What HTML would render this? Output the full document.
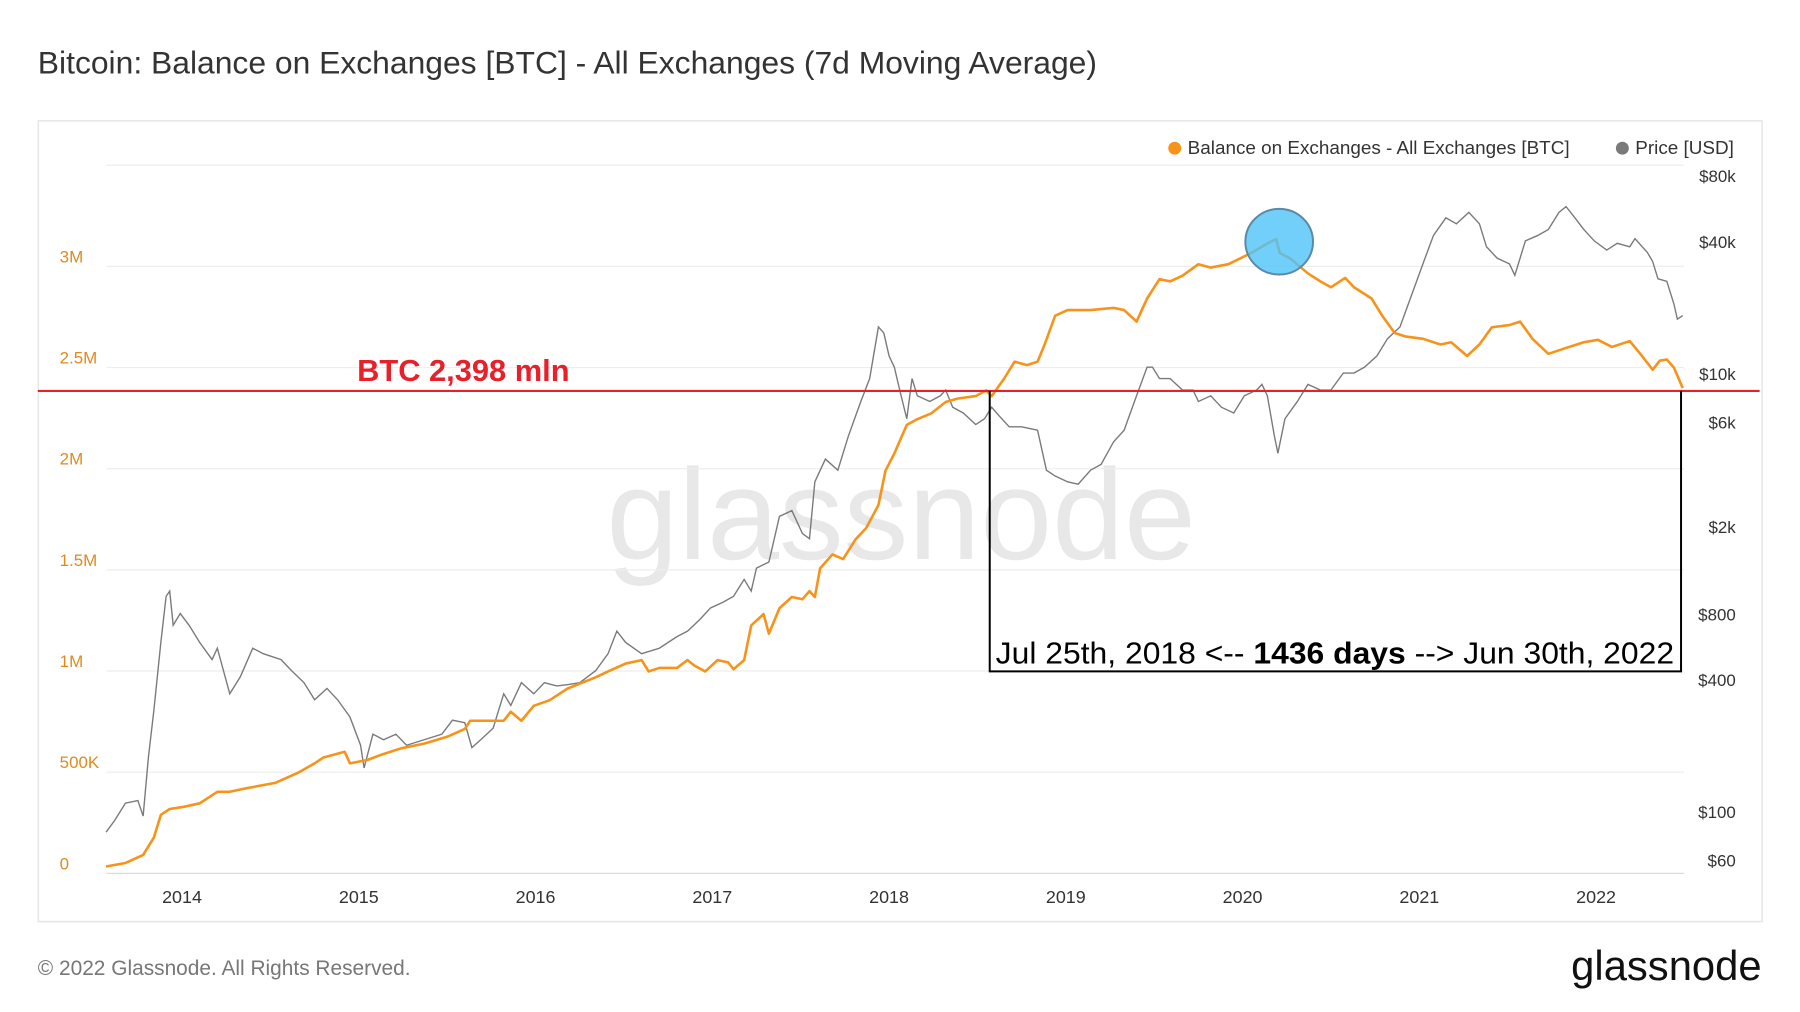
<!DOCTYPE html>
<html><head><meta charset="utf-8">
<style>
html,body{margin:0;padding:0;background:#fff;}
svg{display:block;font-family:"Liberation Sans",sans-serif;}
</style></head>
<body>
<svg id="chart" width="1800" height="1012" viewBox="0 0 1800 1012" xmlns="http://www.w3.org/2000/svg">
<g transform="scale(0.9947)">
<text x="38" y="74" font-size="32" fill="#333">Bitcoin: Balance on Exchanges [BTC] - All Exchanges (7d Moving Average)</text>
<rect x="38.5" y="121.5" width="1733" height="805" fill="#fff" stroke="#e6e6e6" stroke-width="1.5"/>
<text x="906" y="562" font-size="130" fill="#e8e8e8" text-anchor="middle">glassnode</text>
<g id="grid"></g>
<g id="leftAxis"></g>
<g id="rightAxis"></g>
<g id="xAxis"></g>
<path id="priceLine" fill="none" stroke="#7a7a7a" stroke-width="1.4"/>
<path id="balLine" fill="none" stroke="#f7931a" stroke-width="2.6" stroke-linejoin="round"/>
<ellipse cx="1286" cy="243" rx="34" ry="33" fill="#4fc3f7" fill-opacity="0.8" stroke="#5a8aa6" stroke-width="2"/>
<line x1="38" y1="393" x2="1769" y2="393" stroke="#e8202a" stroke-width="2.2"/>
<text x="359" y="383" font-size="31" font-weight="bold" fill="#e8202a">BTC 2,398 mln</text>
<path d="M995 393 V675 H1690 V393" fill="none" stroke="#000" stroke-width="2"/>
<text x="1001" y="667" font-size="31" fill="#000" textLength="682" lengthAdjust="spacingAndGlyphs">Jul 25th, 2018 &lt;-- <tspan font-weight="bold">1436 days</tspan> --&gt; Jun 30th, 2022</text>
<g>
<circle cx="1181" cy="149" r="6.5" fill="#f7931a"/>
<text x="1194" y="155" font-size="19" fill="#333">Balance on Exchanges - All Exchanges [BTC]</text>
<circle cx="1631" cy="149" r="6.5" fill="#7a7a7a"/>
<text x="1644" y="155" font-size="19" fill="#333">Price [USD]</text>
</g>
<text x="38" y="980" font-size="21" fill="#777">© 2022 Glassnode. All Rights Reserved.</text>
<text x="1771" y="985" font-size="42" fill="#111" text-anchor="end">glassnode</text>
</g>
</svg>
<script>
const balDates=[2013.57,2013.68,2013.78,2013.84,2013.88,2013.93,2014.01,2014.10,2014.20,2014.27,2014.36,2014.53,2014.66,2014.75,2014.80,2014.92,2014.95,2015.05,2015.14,2015.24,2015.37,2015.50,2015.60,2015.63,2015.73,2015.82,2015.86,2015.92,2015.99,2016.08,2016.18,2016.34,2016.41,2016.51,2016.60,2016.64,2016.70,2016.80,2016.86,2016.90,2016.96,2017.03,2017.09,2017.12,2017.18,2017.22,2017.29,2017.32,2017.38,2017.45,2017.51,2017.55,2017.58,2017.61,2017.68,2017.74,2017.81,2017.87,2017.94,2017.98,2018.03,2018.10,2018.16,2018.24,2018.32,2018.39,2018.49,2018.55,2018.58,2018.65,2018.71,2018.78,2018.84,2018.88,2018.94,2019.01,2019.14,2019.27,2019.33,2019.40,2019.46,2019.53,2019.59,2019.66,2019.75,2019.82,2019.92,2020.05,2020.14,2020.19,2020.21,2020.27,2020.37,2020.44,2020.50,2020.58,2020.63,2020.73,2020.79,2020.86,2020.92,2021.02,2021.12,2021.18,2021.27,2021.34,2021.41,2021.51,2021.57,2021.64,2021.73,2021.83,2021.93,2022.01,2022.09,2022.19,2022.25,2022.32,2022.36,2022.40,2022.44,2022.49];
const balValuesK=[34,51,91,176,289,318,329,346,403,403,420,448,499,544,573,601,544,561,590,618,641,675,714,754,754,754,799,754,828,856,913,969,998,1037,1054,998,1015,1015,1054,1026,998,1054,1043,1009,1054,1225,1281,1185,1310,1366,1355,1395,1366,1508,1576,1553,1650,1706,1820,1990,2075,2217,2245,2274,2330,2347,2359,2387,2359,2444,2529,2512,2529,2614,2756,2784,2784,2795,2784,2727,2841,2937,2926,2954,3011,2994,3011,3067,3113,3135,3067,3039,2965,2926,2897,2943,2897,2841,2756,2671,2654,2642,2614,2625,2557,2614,2699,2710,2727,2642,2568,2597,2625,2637,2602,2631,2568,2489,2534,2540,2500,2398];
const priceDates=[2013.57,2013.62,2013.68,2013.75,2013.78,2013.81,2013.84,2013.88,2013.91,2013.93,2013.95,2013.99,2014.04,2014.10,2014.17,2014.20,2014.27,2014.33,2014.40,2014.46,2014.56,2014.62,2014.69,2014.75,2014.82,2014.88,2014.95,2015.01,2015.03,2015.08,2015.14,2015.21,2015.27,2015.37,2015.47,2015.53,2015.60,2015.64,2015.69,2015.76,2015.82,2015.86,2015.92,2015.99,2016.05,2016.12,2016.18,2016.25,2016.34,2016.41,2016.46,2016.51,2016.60,2016.70,2016.80,2016.86,2016.93,2016.99,2017.06,2017.12,2017.18,2017.22,2017.25,2017.32,2017.38,2017.45,2017.51,2017.55,2017.58,2017.64,2017.71,2017.77,2017.84,2017.89,2017.94,2017.97,2018.00,2018.03,2018.06,2018.10,2018.13,2018.16,2018.23,2018.29,2018.32,2018.36,2018.42,2018.49,2018.54,2018.58,2018.62,2018.68,2018.75,2018.84,2018.89,2018.94,2019.01,2019.07,2019.14,2019.20,2019.27,2019.33,2019.40,2019.46,2019.49,2019.53,2019.59,2019.66,2019.72,2019.75,2019.82,2019.88,2019.95,2020.01,2020.08,2020.11,2020.14,2020.18,2020.20,2020.24,2020.31,2020.37,2020.44,2020.50,2020.57,2020.63,2020.69,2020.76,2020.82,2020.89,2020.95,2021.02,2021.08,2021.15,2021.21,2021.28,2021.34,2021.38,2021.44,2021.51,2021.54,2021.60,2021.67,2021.73,2021.79,2021.83,2021.88,2021.93,2021.99,2022.06,2022.12,2022.19,2022.22,2022.29,2022.32,2022.35,2022.40,2022.44,2022.46,2022.49];
const priceValues=[81,92,110,113,96,178,289,595,967,1022,713,807,713,595,497,560,347,415,560,529,497,442,390,326,367,326,272,202,159,227,214,227,202,214,227,263,256,197,214,242,347,307,390,347,390,377,382,390,442,529,670,595,529,560,633,670,758,855,908,967,1155,1022,1300,1387,2240,2380,1870,1770,3220,4090,3640,5210,7490,9530,16400,15400,12100,10750,8450,6250,9530,7950,7490,7950,8450,7050,6640,5880,6250,7050,6480,5740,5740,5540,3640,3420,3220,3140,3640,3870,4900,5540,7950,10750,10750,9530,9530,8450,8450,7490,7950,7050,6640,7950,8450,8970,7950,5210,4350,6250,7490,8970,8450,8450,10100,10100,10750,12100,14500,16400,22200,31800,42900,51600,48500,54700,48500,38100,33800,31800,28200,40500,42900,45700,54700,58100,51600,45700,40500,36800,39500,38100,41500,35900,32600,27200,26500,20900,17800,18500];
const leftTicks=[0,500000,1000000,1500000,2000000,2500000,3000000,3500000];
const leftTickLabels=["0","500K","1M","1.5M","2M","2.5M","3M",""];
const rightTicks=[60,100,400,800,2000,6000,10000,40000,80000];
const rightTickLabels=["$60","$100","$400","$800","$2k","$6k","$10k","$40k","$80k"];
const xTicks=[2014,2015,2016,2017,2018,2019,2020,2021,2022];

const NS="http://www.w3.org/2000/svg";
function xScale(yr){return 183+(yr-2014)*177.7;}
function yBal(v){return 878-v/500000*101.7;}
function yPrice(p){return 376-66.3*Math.log2(p/10000);}
function mk(tag,attrs,parent){const e=document.createElementNS(NS,tag);for(const k in attrs)e.setAttribute(k,attrs[k]);parent.appendChild(e);return e;}

const grid=document.getElementById('grid');
const la=document.getElementById('leftAxis');
leftTicks.forEach((t,i)=>{
  const y=yBal(t);
  const l=mk('line',{x1:107,x2:1693,y1:y,y2:y,stroke:i===0?'#dcdcdc':'#eeeeee','stroke-width':1.2},grid);
  
  
  if(leftTickLabels[i]){
    const tx=mk('text',{x:60,y:y-4,'font-size':17,fill:'#e08a1e'},la);
    tx.textContent=leftTickLabels[i];
    
    
  }
});
const ra=document.getElementById('rightAxis');
rightTicks.forEach((t,i)=>{
  const tx=mk('text',{x:1745,y:yPrice(t)+6,'font-size':17,fill:'#333','text-anchor':'end'},ra);
  tx.textContent=rightTickLabels[i];
  
  
});
const xa=document.getElementById('xAxis');
xTicks.forEach(t=>{
  const tx=mk('text',{x:xScale(t),y:908,'font-size':18,fill:'#333','text-anchor':'middle'},xa);
  tx.textContent=String(t);
  
  
});
document.getElementById('balLine').setAttribute('d',balDates.map((d,i)=>(i?'L':'M')+xScale(d).toFixed(1)+' '+yBal(balValuesK[i]*1000).toFixed(1)).join(' '));
document.getElementById('priceLine').setAttribute('d',priceDates.map((d,i)=>(i?'L':'M')+xScale(d).toFixed(1)+' '+yPrice(priceValues[i]).toFixed(1)).join(' '));
</script>
</body></html>
